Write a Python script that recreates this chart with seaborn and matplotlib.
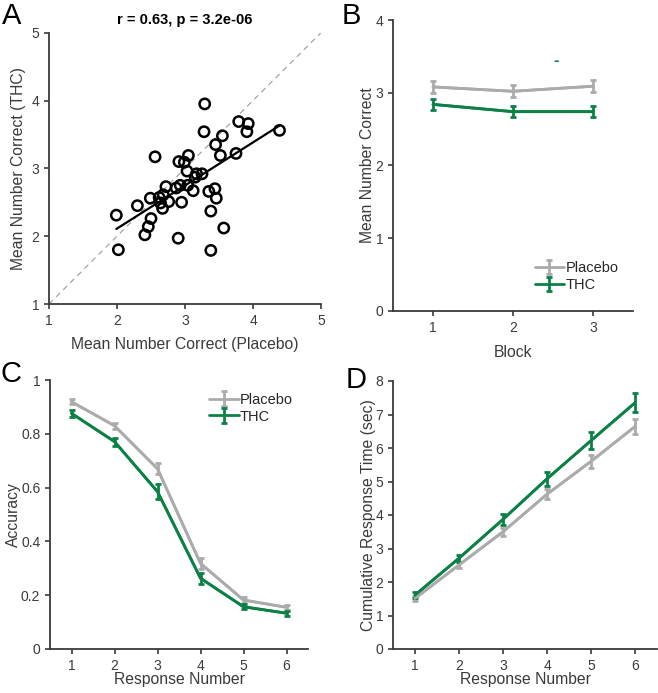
import numpy as np
import pandas as pd
import matplotlib
matplotlib.use("Agg")
import matplotlib.pyplot as plt
from matplotlib.ticker import FuncFormatter
import seaborn as sns

# ---------------- data ----------------
placebo_mean_correct = [3.29, 3.79, 3.93, 3.91, 4.39, 3.28, 3.55, 3.45, 3.52, 3.75,
                        2.56, 3.05, 2.91, 2.99, 3.03, 3.17, 3.25, 3.15, 2.72, 2.87,
                        2.93, 3.04, 3.12, 3.35, 3.44, 3.46, 2.49, 2.62, 2.68, 2.64,
                        2.76, 2.67, 2.95, 2.30, 1.99, 2.50, 2.46, 2.41, 3.38, 3.57,
                        2.90, 2.02, 3.38]
thc_mean_correct = [3.95, 3.69, 3.66, 3.54, 3.56, 3.54, 3.48, 3.35, 3.19, 3.22,
                    3.17, 3.19, 3.10, 3.09, 2.96, 2.92, 2.92, 2.87, 2.73, 2.71,
                    2.75, 2.75, 2.67, 2.66, 2.70, 2.56, 2.56, 2.57, 2.61, 2.49,
                    2.51, 2.41, 2.50, 2.45, 2.31, 2.26, 2.14, 2.02, 2.37, 2.12,
                    1.97, 1.80, 1.79]
corr_title = "r = 0.63, p = 3.2e-06"

blocks = [1, 2, 3]
block_placebo = [3.08, 3.02, 3.09]
block_placebo_err = [0.08, 0.08, 0.08]
block_thc = [2.84, 2.74, 2.74]
block_thc_err = [0.08, 0.08, 0.08]
sig_marker_x, sig_marker_y = 2.54, 3.44

response_number = [1, 2, 3, 4, 5, 6]
acc_placebo = [0.919, 0.830, 0.670, 0.318, 0.182, 0.155]
acc_placebo_err = [0.010, 0.012, 0.020, 0.020, 0.010, 0.010]
acc_thc = [0.876, 0.771, 0.585, 0.263, 0.157, 0.133]
acc_thc_err = [0.012, 0.015, 0.028, 0.020, 0.010, 0.010]

rt_placebo = [1.51, 2.51, 3.50, 4.62, 5.60, 6.64]
rt_placebo_err = [0.07, 0.09, 0.12, 0.15, 0.20, 0.23]
rt_thc = [1.61, 2.71, 3.87, 5.08, 6.22, 7.35]
rt_thc_err = [0.08, 0.10, 0.17, 0.20, 0.25, 0.28]

conditions = ["Placebo", "THC"]
GRAY = "#ababab"
GREEN = "#0b8146"
DARK = "#3a3a3a"

# ---------------- style ----------------
sns.set_style("ticks")
plt.rcParams["font.family"] = ["Liberation Sans", "DejaVu Sans"]
plt.rcParams.update({
    "axes.edgecolor": DARK,
    "axes.linewidth": 1.3,
    "xtick.color": DARK,
    "ytick.color": DARK,
    "xtick.labelcolor": DARK,
    "ytick.labelcolor": DARK,
    "xtick.major.width": 1.2,
    "ytick.major.width": 1.2,
    "xtick.major.size": 3.5,
    "ytick.major.size": 3.5,
    "xtick.labelsize": 10,
    "ytick.labelsize": 10,
    "axes.labelcolor": DARK,
    "axes.labelsize": 11.3,
})

fig = plt.figure(figsize=(6.58, 6.93), dpi=100)
W, H = 658.0, 693.0


def add_axes(l, r, t, b):
    return fig.add_axes([l / W, 1 - b / H, (r - l) / W, (b - t) / H])


axA = add_axes(49, 321, 32.7, 304)
axB = add_axes(393, 633, 20, 311)
axC = add_axes(50, 308, 380, 649)
axD = add_axes(393, 657, 381, 649)

fmt_g = FuncFormatter(lambda v, p: f"{v:g}")

# ---------------- Panel A ----------------
dfA = pd.DataFrame({"placebo": placebo_mean_correct, "thc": thc_mean_correct})
axA.plot([1, 5], [1, 5], ls=(0, (5, 4)), color="#9a9a9a", lw=0.8, zorder=1)
sns.regplot(data=dfA, x="placebo", y="thc", ax=axA, scatter=False, ci=None,
            line_kws=dict(color="black", lw=1.6, zorder=2))
sns.scatterplot(data=dfA, x="placebo", y="thc", ax=axA, s=55,
                facecolor="none", edgecolor="black", linewidth=1.8, zorder=3)
axA.set_xlim(1, 5)
axA.set_ylim(1, 5)
axA.set_xticks([1, 2, 3, 4, 5])
axA.set_yticks([1, 2, 3, 4, 5])
axA.set_xlabel("Mean Number Correct (Placebo)")
axA.set_ylabel("Mean Number Correct (THC)")
axA.xaxis.set_label_coords(0.5, -0.122)
axA.yaxis.set_label_coords(-0.086, 0.5)
axA.set_title(corr_title, fontsize=10.5, fontweight="bold", color="black", pad=6)


def draw_lines(ax, x, series, errs, colors, labels):
    for y, e, c, lab in zip(series, errs, colors, labels):
        ax.errorbar(x, y, yerr=e, fmt="-", color=c, lw=2.0, elinewidth=2.0,
                    capsize=2.5, capthick=2.0, label=lab, zorder=3)
        df = pd.DataFrame({"x": x, "y": y})
        sns.lineplot(data=df, x="x", y="y", ax=ax, color=c, lw=2.0,
                     legend=False, zorder=3)


# ---------------- Panel B ----------------
draw_lines(axB, blocks, [block_placebo, block_thc],
           [block_placebo_err, block_thc_err], [GRAY, GREEN], conditions)
axB.text(sig_marker_x, sig_marker_y, "-", color=GREEN, fontsize=12,
         fontweight="bold", ha="center", va="center")
axB.set_xlim(0.5, 3.5)
axB.set_ylim(0, 4)
axB.set_xticks(blocks)
axB.set_yticks([0, 1, 2, 3, 4])
axB.set_xlabel("Block")
axB.set_ylabel("Mean Number Correct")
axB.xaxis.set_label_coords(0.5, -0.117)
axB.yaxis.set_label_coords(-0.073, 0.5)
axB.legend(loc="lower right", bbox_to_anchor=(0.97, 0.04), frameon=False,
           fontsize=10.5, handlelength=2.0, handletextpad=0.1, labelspacing=0.2,
           borderpad=0)

# ---------------- Panel C ----------------
draw_lines(axC, response_number, [acc_placebo, acc_thc],
           [acc_placebo_err, acc_thc_err], [GRAY, GREEN], conditions)
axC.set_xlim(0.5, 6.5)
axC.set_ylim(0, 1)
axC.set_xticks(response_number)
axC.set_yticks([0, 0.2, 0.4, 0.6, 0.8, 1.0])
axC.yaxis.set_major_formatter(fmt_g)
axC.set_xlabel("Response Number")
axC.set_ylabel("Accuracy")
axC.xaxis.set_label_coords(0.5, -0.086)
axC.yaxis.set_label_coords(-0.112, 0.5)
axC.legend(loc="upper right", bbox_to_anchor=(0.97, 0.98), frameon=False,
           fontsize=10.5, handlelength=2.0, handletextpad=0.1, labelspacing=0.2,
           borderpad=0)

# ---------------- Panel D ----------------
draw_lines(axD, response_number, [rt_placebo, rt_thc],
           [rt_placebo_err, rt_thc_err], [GRAY, GREEN], conditions)
axD.set_xlim(0.5, 6.5)
axD.set_ylim(0, 8)
axD.set_xticks(response_number)
axD.set_yticks(range(0, 9))
axD.set_xlabel("Response Number")
axD.set_ylabel("Cumulative Response Time (sec)")
axD.xaxis.set_label_coords(0.5, -0.086)
axD.yaxis.set_label_coords(-0.064, 0.5)

for ax in (axA, axB, axC, axD):
    sns.despine(ax=ax)
    ax.tick_params(direction="out")

# panel letters
for txt, x, y in [("A", 2, 2), ("B", 342, 2), ("C", 0, 360), ("D", 346, 366)]:
    fig.text(x / W, 1 - y / H, txt, fontsize=21, color="black", ha="left", va="top")

fig.savefig("out.png", dpi=100)
